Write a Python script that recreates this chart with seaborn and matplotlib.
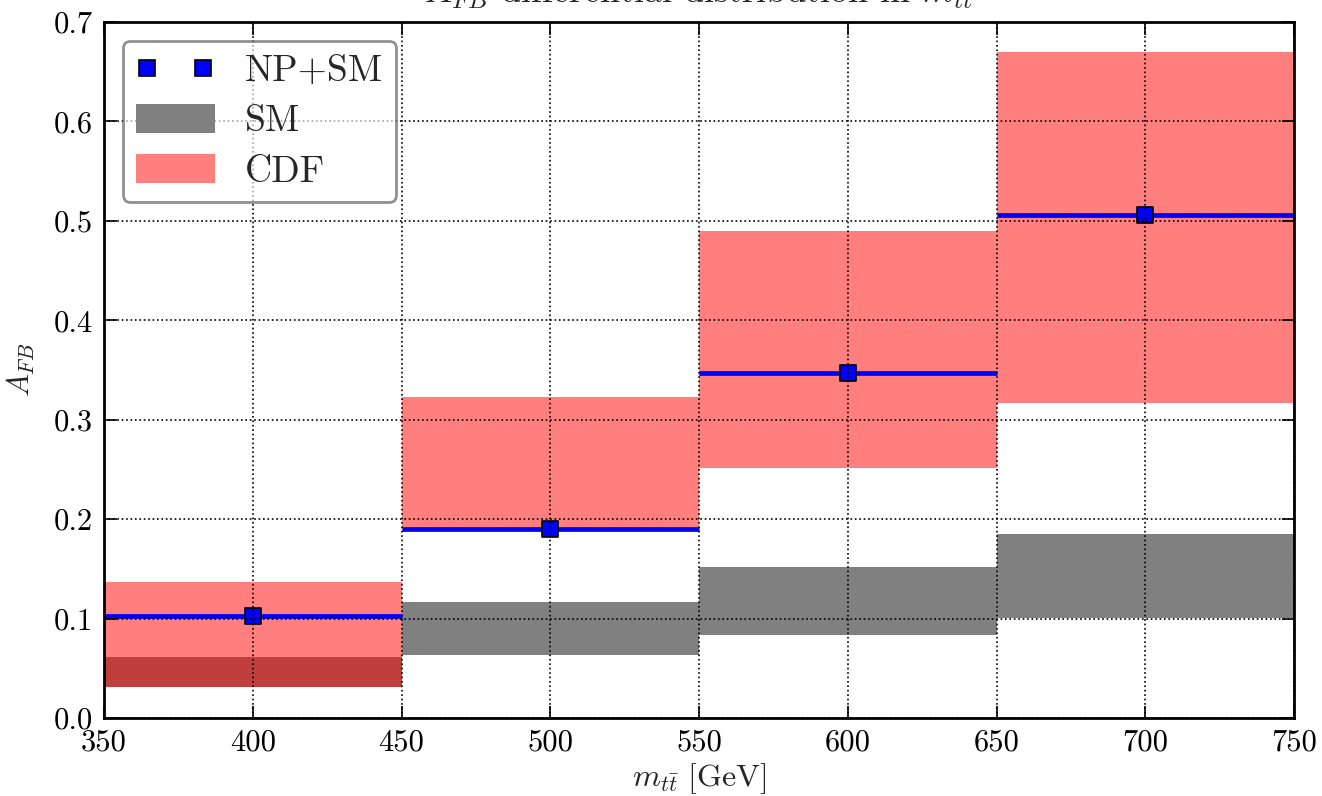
import numpy as np
import pandas as pd
import matplotlib
matplotlib.use("Agg")
import matplotlib.pyplot as plt
import seaborn as sns
from matplotlib.lines import Line2D
from matplotlib.patches import Patch

# ---- data ----
bin_edges = [350, 450, 550, 650, 750]
bin_centers = [400, 500, 600, 700]
np_sm = [0.103, 0.190, 0.347, 0.506]
sm_low = [0.031, 0.063, 0.083, 0.101]
sm_high = [0.061, 0.117, 0.152, 0.185]
cdf_low = [0.031, 0.188, 0.251, 0.317]
cdf_high = [0.137, 0.323, 0.490, 0.670]
x_ticks = [350, 400, 450, 500, 550, 600, 650, 700, 750]
y_ticks = [0.0, 0.1, 0.2, 0.3, 0.4, 0.5, 0.6, 0.7]

sns.set_style("ticks")
plt.rcParams.update({
    "font.family": ["serif"],
    "font.serif": ["cmr10", "DejaVu Serif"],
    "mathtext.fontset": "cm",
    "axes.formatter.use_mathtext": True,
    "axes.unicode_minus": False,
})

fig = plt.figure(figsize=(13.22, 7.96), dpi=100)
ax = fig.add_axes([104/1322, 1-718/796, (1294-104)/1322, (718-22)/796])

lefts = bin_edges[:-1]
widths = [bin_edges[i+1]-bin_edges[i] for i in range(len(lefts))]

df = pd.DataFrame({"center": bin_centers, "np_sm": np_sm})

# SM band (gray), then CDF band (red, semi-transparent) on top
ax.bar(lefts, [h-l for h, l in zip(sm_high, sm_low)], width=widths, bottom=sm_low,
       align="edge", color="#808080", linewidth=0, zorder=1)
ax.bar(lefts, [h-l for h, l in zip(cdf_high, cdf_low)], width=widths, bottom=cdf_low,
       align="edge", color="red", alpha=0.5, linewidth=0, zorder=1.1)

# NP+SM horizontal lines and markers
ax.hlines(np_sm, lefts, bin_edges[1:], colors="blue", linewidth=3.4, zorder=2)
sns.scatterplot(data=df, x="center", y="np_sm", marker="s", s=140, color="blue",
                edgecolor="black", linewidth=1.2, ax=ax, zorder=2.2, legend=False)

ax.set_xlim(350, 750)
ax.set_ylim(0, 0.7)
ax.set_xticks(x_ticks)
ax.set_yticks(y_ticks)
ax.set_xticklabels([str(v) for v in x_ticks])
ax.set_yticklabels([f"{v:.1f}" for v in y_ticks])
ax.tick_params(direction="in", length=9, width=1.2, labelsize=22, top=True, right=True,
               pad=8, colors="black")
ax.set_axisbelow(False)
ax.grid(True, color="black", linestyle=":", linewidth=1.2)
for sp in ax.spines.values():
    sp.set_linewidth(2)
    sp.set_color("black")

ax.set_xlabel(r"$m_{t\bar{t}}\ [\mathrm{GeV}]$", fontsize=23, labelpad=3)
ax.set_ylabel(r"$A_{FB}$", fontsize=22, labelpad=12)
ax.set_title(r"$A_{FB}$ differential distribution in $m_{tt}$", fontsize=26, pad=14)

handles = [
    Line2D([], [], linestyle="none", marker="s", markersize=11.5, markerfacecolor="blue",
           markeredgecolor="black", markeredgewidth=1.2),
    Patch(facecolor="#808080", edgecolor="none"),
    Patch(facecolor="red", alpha=0.5, edgecolor="none"),
]
leg = ax.legend(handles, ["NP+SM", "SM", "CDF"], loc="upper left", numpoints=2,
                fontsize=27, handlelength=2.1, handleheight=0.8, handletextpad=0.8,
                labelspacing=0.42, borderpad=0.35, borderaxespad=0.5,
                fancybox=True, framealpha=0.65)
leg.get_frame().set_edgecolor("#555555")
leg.get_frame().set_linewidth(2)

fig.savefig("out.png", dpi=100)
